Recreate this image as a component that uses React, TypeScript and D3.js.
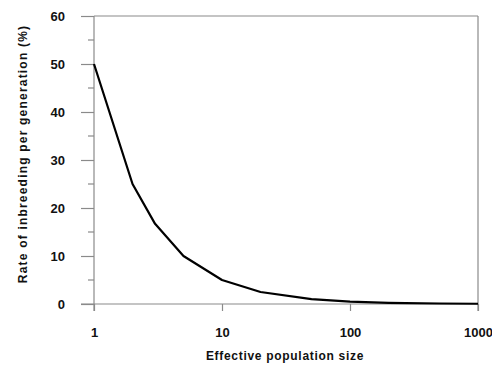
import React, { useRef, useEffect } from "react";
import * as d3 from "d3";

const popSizes = [1, 2, 3, 5, 10, 20, 50, 100, 200, 500, 1000];
const inbreedingRate = [50, 25, 16.7, 10, 5, 2.5, 1, 0.5, 0.25, 0.1, 0.05];
const xTickValues = [1, 10, 100, 1000];
const yTickValues = [0, 10, 20, 30, 40, 50, 60];
const yMinorTicks = [5, 15, 25, 35, 45, 55];

const App = () => {
  const svgRef = useRef<SVGSVGElement>(null);

  useEffect(() => {
    const width = 500;
    const height = 371;
    const margin = { top: 16, right: 22, bottom: 67, left: 94 };
    const svg = d3.select(svgRef.current).attr("width", width).attr("height", height);
    svg.selectAll("*").remove();

    const x = d3.scaleLog().domain([1, 1000]).range([margin.left, width - margin.right]);
    const y = d3.scaleLinear().domain([0, 60]).range([height - margin.bottom, margin.top]);

    const g = svg.append("g");
    const frameColor = "#8a8a8a";
    const font = "'Liberation Sans', Arial, sans-serif";

    // frame: top and right sides
    g.append("line")
      .attr("x1", x(1)).attr("x2", x(1000))
      .attr("y1", y(60)).attr("y2", y(60))
      .attr("stroke", frameColor).attr("stroke-width", 1.2);
    g.append("line")
      .attr("x1", x(1000)).attr("x2", x(1000))
      .attr("y1", y(60)).attr("y2", y(0) + 7)
      .attr("stroke", frameColor).attr("stroke-width", 1.2);

    // y axis
    const yAxis = d3.axisLeft(y).tickValues(yTickValues).tickSize(13).tickFormat(d3.format("d"));
    const ya = g.append("g").attr("transform", `translate(${x(1)},0)`).call(yAxis);
    ya.select(".domain").remove();
    ya.append("line")
      .attr("x1", 0).attr("x2", 0).attr("y1", y(60)).attr("y2", y(0) + 7)
      .attr("stroke", frameColor).attr("stroke-width", 1.2);
    ya.selectAll(".tick line").attr("stroke", frameColor).attr("stroke-width", 1.2);
    ya.selectAll(".tick text")
      .attr("x", -29)
      .attr("font-family", font).attr("font-size", 13).attr("font-weight", "bold")
      .attr("fill", "#111");
    ya.selectAll(".minor")
      .data(yMinorTicks)
      .join("line")
      .attr("class", "minor")
      .attr("x1", -6).attr("x2", 0)
      .attr("y1", (d) => y(d)).attr("y2", (d) => y(d))
      .attr("stroke", frameColor).attr("stroke-width", 1.2);

    // x axis
    const xAxis = d3.axisBottom(x).tickValues(xTickValues).tickSize(7).tickFormat(d3.format("d"));
    const xa = g.append("g").attr("transform", `translate(0,${y(0)})`).call(xAxis);
    xa.select(".domain").remove();
    xa.append("line")
      .attr("x1", x(1) - 13).attr("x2", x(1000)).attr("y1", 0).attr("y2", 0)
      .attr("stroke", frameColor).attr("stroke-width", 1.2);
    xa.selectAll(".tick line").attr("stroke", frameColor).attr("stroke-width", 1.2);
    xa.selectAll(".tick text")
      .attr("y", 24)
      .attr("font-family", font).attr("font-size", 13).attr("font-weight", "bold")
      .attr("fill", "#111");

    // curve
    const line = d3.line<number>()
      .x((d, i) => x(popSizes[i]))
      .y((d) => y(d));
    g.append("path")
      .datum(inbreedingRate)
      .attr("d", line)
      .attr("fill", "none")
      .attr("stroke", "#000")
      .attr("stroke-width", 2.2)
      .attr("stroke-linejoin", "round");

    // titles
    g.append("text")
      .attr("x", 285).attr("y", 360)
      .attr("text-anchor", "middle")
      .attr("font-family", font).attr("font-size", 12).attr("font-weight", "bold")
      .attr("letter-spacing", 0.7)
      .attr("fill", "#111")
      .text("Effective population size");
    g.append("text")
      .attr("transform", `translate(27,154) rotate(-90)`)
      .attr("text-anchor", "middle")
      .attr("font-family", font).attr("font-size", 12).attr("font-weight", "bold")
      .attr("letter-spacing", 1.2)
      .attr("fill", "#111")
      .text("Rate of inbreeding per generation (%)");
  }, []);

  return (
    <div style={{ margin: -8 }}>
      <svg ref={svgRef}></svg>
    </div>
  );
};

export default App;
